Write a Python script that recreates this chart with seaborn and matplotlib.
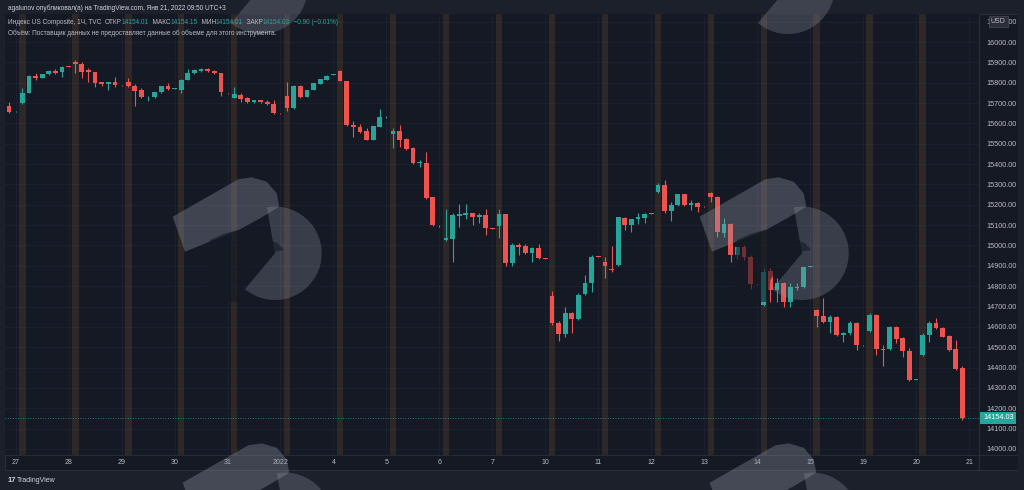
import numpy as np
import pandas as pd
import matplotlib
matplotlib.use('Agg')
import matplotlib.pyplot as plt
import matplotlib.patches as mpatches
import matplotlib.transforms as mtransforms
from matplotlib.lines import Line2D
import seaborn as sns

# ---- hourly bars, US Composite (8 bars per session, first bar of 23 dec kept)
opens = [15687,
         15656, 15698, 15750, 15834, 15824, 15842, 15857, 15851,   # 27
         15880, 15903, 15890, 15862, 15854, 15802, 15792, 15802,   # 28
         15790, 15802, 15785, 15764, 15729, 15728, 15752, 15783,   # 29
         15771, 15764, 15813, 15846, 15859, 15867, 15859, 15846,   # 30
         15749, 15726, 15739, 15723, 15706, 15715, 15706, 15694,   # 31
         15651, 15736, 15674, 15785, 15731, 15764, 15793, 15813,   # 2022
         15839, 15859, 15810, 15592, 15581, 15564, 15518, 15584,   # 4
         15629, 15548, 15564, 15522, 15478, 15404, 15407, 15237,   # 5
         15099, 15027, 15030, 15145, 15150, 15158, 15138, 15150,   # 6
         15086, 15096, 15155, 14912, 15002, 14997, 14964, 14986,   # 7
         14938, 14752, 14620, 14565, 14666, 14637, 14761, 14814,   # 10
         14946, 14920, 14884, 14904, 15136, 15101, 15129, 15134,   # 11
         15160, 15264, 15297, 15171, 15199, 15253, 15199, 15210,   # 12
         15195, 15256, 15240, 15060, 15106, 14953, 14991, 14942,   # 13
         14812, 14708, 14876, 14781, 14817, 14724, 14790, 14795,   # 14
         14894, 14683, 14653, 14625, 14647, 14560, 14569, 14620,   # 15
         14507, 14581, 14658, 14491, 14490, 14601, 14544, 14483,   # 19
         14341, 14462, 14560, 14620, 14593, 14555, 14490, 14396]   # 20
highs = [15703,
         15661, 15772, 15837, 15846, 15845, 15860, 15867, 15882,
         15882, 15911, 15901, 15870, 15855, 15803, 15803, 15829,
         15791, 15824, 15792, 15772, 15734, 15756, 15786, 15797,
         15776, 15816, 15867, 15865, 15874, 15870, 15862, 15847,
         15750, 15780, 15748, 15731, 15716, 15716, 15715, 15715,
         15652, 15802, 15788, 15788, 15766, 15798, 15818, 15836,
         15842, 15861, 15810, 15613, 15597, 15577, 15589, 15669,
         15634, 15576, 15592, 15528, 15484, 15420, 15461, 15238,
         15103, 15178, 15158, 15204, 15204, 15161, 15158, 15178,
         15086, 15178, 15157, 15010, 15010, 15007, 14994, 15007,
         14938, 14778, 14630, 14696, 14674, 14768, 14855, 14953,
         14948, 14942, 14997, 15141, 15140, 15132, 15161, 15161,
         15161, 15308, 15322, 15215, 15255, 15255, 15224, 15215,
         15196, 15264, 15243, 15134, 15110, 14994, 15002, 14953,
         14813, 14888, 14888, 14839, 14820, 14814, 14817, 14896,
         14898, 14688, 14741, 14658, 14653, 14576, 14630, 14624,
         14509, 14667, 14661, 14511, 14604, 14604, 14552, 14495,
         14344, 14568, 14630, 14642, 14601, 14560, 14535, 14408]
lows = [15649,
        15654, 15697, 15748, 15813, 15823, 15840, 15841, 15829,
        15875, 15846, 15824, 15805, 15780, 15785, 15764, 15780,
        15786, 15780, 15687, 15723, 15710, 15727, 15751, 15764,
        15769, 15748, 15812, 15845, 15854, 15855, 15842, 15736,
        15746, 15725, 15706, 15698, 15698, 15700, 15690, 15644,
        15646, 15661, 15671, 15727, 15729, 15762, 15792, 15811,
        15837, 15808, 15589, 15535, 15554, 15516, 15517, 15583,
        15628, 15478, 15486, 15469, 15400, 15384, 15228, 15096,
        15093, 15022, 14920, 15092, 15129, 15101, 15112, 15052,
        15082, 15035, 14899, 14899, 14953, 14958, 14920, 14932,
        14935, 14609, 14532, 14552, 14571, 14634, 14759, 14773,
        14942, 14838, 14871, 14901, 15076, 15068, 15105, 15112,
        15156, 15256, 15158, 15122, 15196, 15196, 15174, 15166,
        15191, 15215, 15043, 15043, 14920, 14932, 14929, 14785,
        14808, 14703, 14724, 14724, 14696, 14696, 14781, 14791,
        14893, 14601, 14620, 14569, 14555, 14527, 14560, 14486,
        14504, 14577, 14462, 14408, 14486, 14519, 14453, 14336,
        14339, 14457, 14527, 14588, 14549, 14483, 14388, 14142]
closes = [15654,
          15658, 15750, 15834, 15821, 15842, 15857, 15846, 15878,
          15877, 15890, 15854, 15851, 15797, 15792, 15802, 15788,
          15787, 15785, 15759, 15728, 15732, 15755, 15785, 15767,
          15774, 15813, 15846, 15862, 15867, 15857, 15846, 15752,
          15747, 15743, 15718, 15706, 15715, 15703, 15694, 15649,
          15649, 15674, 15785, 15731, 15764, 15797, 15816, 15834,
          15842, 15810, 15592, 15581, 15559, 15518, 15587, 15630,
          15631, 15564, 15518, 15473, 15404, 15412, 15232, 15100,
          15102, 15035, 15150, 15155, 15158, 15141, 15150, 15084,
          15083, 15155, 14912, 15002, 14994, 14961, 14986, 14937,
          14936, 14617, 14565, 14669, 14637, 14756, 14814, 14942,
          14943, 14899, 14881, 15138, 15101, 15129, 15138, 15155,
          15157, 15297, 15171, 15199, 15253, 15199, 15210, 15190,
          15193, 15240, 15068, 15106, 14953, 14991, 14942, 14811,
          14810, 14871, 14781, 14817, 14724, 14795, 14797, 14893,
          14897, 14653, 14625, 14647, 14560, 14571, 14620, 14511,
          14505, 14658, 14490, 14488, 14601, 14539, 14483, 14339,
          14343, 14560, 14620, 14593, 14552, 14486, 14392, 14154.03]

day_labels = ['27', '28', '29', '30', '31', '2022', '4', '5', '6', '7',
              '10', '11', '12', '13', '14', '15', '19', '20', '21']
bars_per_day = 8
price_ticks = list(range(14000, 16101, 100))
last_price = 14154.03

header = 'agalunov опубликовал(а) на TradingView.com, Янв 21, 2022 09:50 UTC+3'
legend_parts = [('Индекс US Composite, 1Ч, TVC  ', 'txt'), ('ОТКР', 'txt'), ('14154.01', 'up'),
                ('  МАКС', 'txt'), ('14154.15', 'up'), ('  МИН', 'txt'), ('14154.01', 'up'),
                ('  ЗАКР', 'txt'), ('14154.03', 'up'), ('  −0.90 (−0.01%)', 'up')]
volume_note = 'Объём: Поставщик данных не предоставляет данные об объеме для этого инструмента.'

# ---- colours
PAGE = '#1c202b'
BG = '#151924'
GRID = '#1e2230'
LINE = '#2a2e39'
TXT = '#b8bbc4'
UP = '#26a69a'
DOWN = '#ef5350'
BAND = '#f0a030'
MARK = '#8e93a3'

W, H = 1024, 490
sns.set_theme(style='dark', rc={'axes.facecolor': BG, 'figure.facecolor': PAGE})
plt.rcParams['font.family'] = ['Liberation Sans', 'DejaVu Sans']

df = pd.DataFrame({'open': opens, 'high': highs, 'low': lows, 'close': closes})
df['bar'] = np.arange(len(df))
df['up'] = df['close'] >= df['open']
colors = np.where(df['up'], UP, DOWN)

fig = plt.figure(figsize=(W / 100, H / 100), dpi=100, facecolor=PAGE)
px = mtransforms.Affine2D().scale(1 / W, -1 / H).translate(0, 1) + fig.transFigure

# chart panel
fig.add_artist(mpatches.Rectangle((5, 14), 1013, 456, transform=px, facecolor=BG,
                                  edgecolor=LINE, lw=0.8, zorder=0))

ax = fig.add_axes([5 / W, 1 - 455 / H, 974 / W, 441 / H])
ax.set_facecolor(BG)
ax.set_xlim(-0.61, 146.5)
ax.set_ylim(13970.5, 16137.6)

# session highlight bands (2nd bar of every session)
n_days = len(day_labels) - 1
for d in range(n_days):
    k = 2 + bars_per_day * d
    ax.axvspan(k - 0.5, k + 0.5, color=BAND, alpha=0.11, lw=0, zorder=1)

# candles
ax.vlines(df['bar'], df['low'], df['high'], colors=colors, lw=0.8, zorder=3)
body = (df['close'] - df['open']).abs().clip(lower=1.5)
ax.bar(df['bar'], body, bottom=df[['open', 'close']].min(axis=1), width=0.72,
       color=colors, lw=0, zorder=4)

# last price
ax.axhline(last_price, color=UP, ls=(0, (1, 2)), lw=0.6, zorder=2)
blend = mtransforms.blended_transform_factory(ax.transAxes, ax.transData)
ax.text(1.004, last_price, f'{last_price:.2f}', transform=blend, ha='left', va='center',
        fontsize=5.2, color='white', zorder=6,
        bbox=dict(boxstyle='square,pad=0.35', facecolor=UP, edgecolor='none'))

# axes
day_starts = [1 + bars_per_day * d for d in range(len(day_labels))]
ax.set_xticks(day_starts)
ax.set_xticklabels(day_labels)
ax.yaxis.tick_right()
ax.set_yticks(price_ticks)
ax.set_yticklabels([f'{v:.2f}' for v in price_ticks])
ax.tick_params(axis='x', length=0, pad=3, labelsize=5, labelcolor=TXT)
ax.tick_params(axis='y', length=0, pad=5, labelsize=5.2, labelcolor=TXT)
ax.grid(True, color=GRID, lw=0.6, zorder=0)
for s in ax.spines.values():
    s.set_visible(False)

ax.text(1.012, 16100, 'USD', transform=blend, ha='left', va='center', fontsize=5,
        color=TXT, zorder=6,
        bbox=dict(boxstyle='square,pad=0.3', facecolor=LINE, edgecolor='#4a4e5a', lw=0.5))

# panel separators
fig.add_artist(Line2D([979, 979], [14, 470], transform=px, color=LINE, lw=0.8))
fig.add_artist(Line2D([5, 1018], [455, 455], transform=px, color=LINE, lw=0.6))

# header and legend (kept above the watermark)
fig.text(8 / W, 1 - 8 / H, header, fontsize=4.7, color='#d1d4dc', va='center', zorder=8)
renderer = fig.canvas.get_renderer()
x = 8
for s, c in legend_parts:
    t = fig.text(x / W, 1 - 22 / H, s, fontsize=4.7, color=UP if c == 'up' else TXT,
                 va='center', ha='left', zorder=8)
    x += t.get_window_extent(renderer).width
fig.text(8 / W, 1 - 33 / H, volume_note, fontsize=4.7, color=TXT, va='center', zorder=8)
fig.text(8 / W, 1 - 480 / H, '17', fontsize=5.5, color='#d1d4dc', va='center',
         fontweight='bold', zorder=8)
fig.text(17 / W, 1 - 480 / H, 'TradingView', fontsize=5, color='#d1d4dc', va='center',
         zorder=8)


# watermark logo, drawn in pixel coords
def logo(dx, dy, with_head=True):
    flag = [(172.7, 216.7), (238.3, 179.3), (251.7, 177.3), (266.7, 181.7), (276.7, 193.3),
            (279.3, 206.7), (260, 218.3), (240, 229.3), (185, 251.7)]
    head = [(210, 240), (223, 234), (238, 230), (250, 231.7), (260, 236.7), (270, 240),
            (278, 243.3), (284, 250), (275, 251.7), (266.7, 255), (258.3, 261.7),
            (250, 270), (243.3, 280), (241.7, 302), (205, 302)]
    fig.add_artist(mpatches.Polygon([(a + dx, b + dy) for a, b in flag], closed=True,
                                    transform=px, facecolor=MARK, alpha=0.36,
                                    lw=0, zorder=5))
    fig.add_artist(mpatches.Wedge((275 + dx, 253.3 + dy), 46.7, -100, 130, transform=px,
                                  facecolor=MARK, alpha=0.3, lw=0, zorder=5))
    if with_head:
        fig.add_artist(mpatches.Polygon([(a + dx, b + dy) for a, b in head], closed=True,
                                        transform=px, facecolor=BG, alpha=0.6,
                                        lw=0, zorder=5))


for dx, dy in [(0, 0), (527, 0), (10, 266), (537, 266)]:
    logo(dx, dy)
for dx, dy in [(-14, -266), (513, -266)]:
    logo(dx, dy, with_head=False)

# keep the right page strip clean where the tiles spill over
fig.add_artist(mpatches.Rectangle((1018, 0), 6, 490, transform=px, facecolor=PAGE,
                                  lw=0, zorder=6))

fig.savefig('out.png', dpi=100, facecolor=PAGE)
